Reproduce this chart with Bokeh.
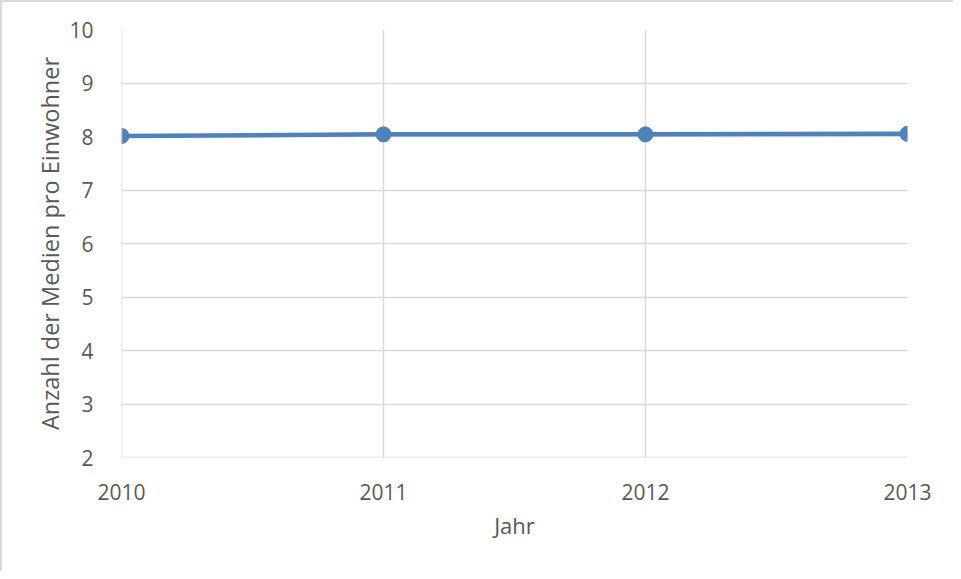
from bokeh.plotting import figure
from bokeh.models import FixedTicker, Range1d, Span
from bokeh.embed import file_html
from bokeh.resources import INLINE

years = [2010, 2011, 2012, 2013]
values = [8.01, 8.04, 8.04, 8.05]
y_ticks = [2, 3, 4, 5, 6, 7, 8, 9, 10]

FONT = "Open Sans"
GREY = "#595959"
GRID = "#d9d9d9"
BLUE = "#4F81BD"

p = figure(width=953, height=571, output_backend="svg", toolbar_location=None,
           x_range=Range1d(2010, 2013), y_range=Range1d(2, 10),
           min_border_left=119, min_border_right=48, min_border_top=27, min_border_bottom=116)
p.styles = {"border-left": "2px solid #d9d9d9", "border-top": "2px solid #d9d9d9", "box-sizing": "border-box"}
p.outline_line_color = None

p.xgrid.ticker = FixedTicker(ticks=years)
p.ygrid.ticker = FixedTicker(ticks=y_ticks)
p.grid.grid_line_color = GRID
p.grid.grid_line_width = 1.5
p.add_layout(Span(location=years[0], dimension="height", line_color=GRID, line_width=1.5))
p.add_layout(Span(location=y_ticks[0], dimension="width", line_color=GRID, line_width=1.5))

p.line(years, values, line_color=BLUE, line_width=4.5)
p.scatter(years, values, size=15, fill_color=BLUE, line_color=BLUE)

p.xaxis.ticker = FixedTicker(ticks=years)
p.yaxis.ticker = FixedTicker(ticks=y_ticks)
for ax in (p.xaxis[0], p.yaxis[0]):
    ax.axis_line_color = None
    ax.major_tick_line_color = None
    ax.minor_tick_line_color = None
    ax.major_label_text_font = FONT
    ax.major_label_text_font_size = "21px"
    ax.major_label_text_color = GREY
    ax.axis_label_text_font = FONT
    ax.axis_label_text_font_size = "22px"
    ax.axis_label_text_color = GREY
    ax.axis_label_text_font_style = "normal"

p.yaxis.axis_label_text_font_size = "23.5px"
p.xaxis.axis_label = "Jahr"
p.yaxis.axis_label = "Anzahl der Medien pro Einwohner"
p.xaxis.major_label_standoff = 20
p.yaxis.major_label_standoff = 22
p.xaxis.axis_label_standoff = 7
p.yaxis.axis_label_standoff = 0

open("out.html", "w").write(file_html(p, INLINE))
